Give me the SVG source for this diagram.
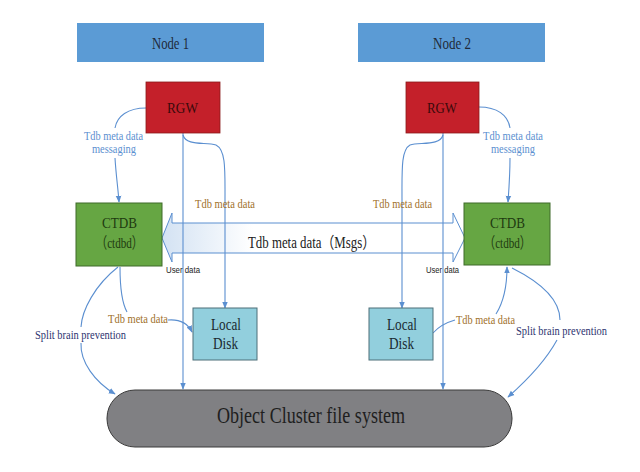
<svg xmlns="http://www.w3.org/2000/svg" width="640" height="472" viewBox="0 0 640 472">
<defs>
<style>
.s{font-family:"Liberation Serif","Noto Sans CJK SC",serif;}
.ss{font-family:"Liberation Sans",sans-serif;}
.c{fill:none;stroke:#5b8fd0;stroke-width:1.1;}
.lb{fill:#5b8fd0;font-size:12.5px;}
.br{fill:#a0702a;font-size:12.5px;}
.nv{fill:#2e3470;font-size:12.5px;}
</style>
<marker id="a" viewBox="0 0 10 10" refX="9" refY="5" markerWidth="7" markerHeight="7" orient="auto-start-reverse" markerUnits="userSpaceOnUse">
<path d="M0,1 L10,5 L0,9 z" fill="#5b8fd0"/>
</marker>
<linearGradient id="g" x1="0" y1="0" x2="1" y2="0">
<stop offset="0" stop-color="#d3e2f3"/>
<stop offset="0.3" stop-color="#ffffff"/>
<stop offset="1" stop-color="#ffffff"/>
</linearGradient>
</defs>
<rect width="640" height="472" fill="#ffffff"/>

<g id="connectors">
<polygon points="162,238 172,213 172,223 453,223 453,213 465,238 453,262 453,253 172,253 172,262" fill="url(#g)" stroke="#5b8fd0" stroke-width="1"/>
<text class="s" x="248" y="248" font-size="16" textLength="127" lengthAdjust="spacingAndGlyphs" fill="#222">Tdb meta data（Msgs）</text>
<path class="c" d="M183,133 L183,389" marker-end="url(#a)"/>
<path class="c" d="M443,133 L443,389" marker-end="url(#a)"/>
<path class="c" d="M183,135 C186,146 205,142 216,145 C226,150 225,170 225,200 L225,308" marker-end="url(#a)"/>
<path class="c" d="M443,135 C440,146 420,142 410,145 C401,150 402,170 402,200 L402,308" marker-end="url(#a)"/>
<path class="c" d="M146,108 C128,108 117,116 115,128"/>
<path class="c" d="M115,158 C116,175 118,188 119,202" marker-end="url(#a)"/>
<path class="c" d="M479,107 C497,107 508,115 510,128"/>
<path class="c" d="M510,158 C510,175 509,188 508,202" marker-end="url(#a)"/>
<path class="c" d="M120,267 C120,290 122,303 127,312"/>
<path class="c" d="M168,320 C180,319 188,324 192,332" marker-end="url(#a)"/>
<path class="c" d="M433,333 C440,325 448,322 455,320"/>
<path class="c" d="M496,314 C503,303 507,288 507,267" marker-end="url(#a)"/>
<path class="c" d="M118,267 C95,285 82,310 81,327 M81,343 C80,362 95,382 115,394" marker-end="url(#a)"/>
<path class="c" d="M512,268 C540,282 560,300 560,320 M557,340 C545,362 525,382 508,397" marker-end="url(#a)"/>
</g>

<g id="node1">
<rect x="77" y="23" width="187" height="39" fill="#5b9bd5"/>
<text class="s" x="152" y="49" font-size="16" textLength="37" lengthAdjust="spacingAndGlyphs" fill="#1f2a3a">Node 1</text>
</g>
<g id="node2">
<rect x="358" y="23" width="187" height="39" fill="#5b9bd5"/>
<text class="s" x="433" y="49" font-size="16" textLength="38" lengthAdjust="spacingAndGlyphs" fill="#1f2a3a">Node 2</text>
</g>

<g id="rgw1">
<rect x="146" y="82" width="74" height="51" fill="#c4202a" stroke="#8a1a1a" stroke-width="0.8"/>
<text class="s" x="167" y="113" font-size="15" textLength="31" lengthAdjust="spacingAndGlyphs" fill="#3a0a0a">RGW</text>
</g>
<g id="rgw2">
<rect x="406" y="82" width="73" height="51" fill="#c4202a" stroke="#8a1a1a" stroke-width="0.8"/>
<text class="s" x="427" y="113" font-size="15" textLength="30" lengthAdjust="spacingAndGlyphs" fill="#3a0a0a">RGW</text>
</g>

<g id="ctdb1">
<rect x="76" y="203" width="86" height="63" fill="#66a643" stroke="#3f6b2a" stroke-width="1"/>
<text class="s" x="102" y="228" font-size="15.5" textLength="35" lengthAdjust="spacingAndGlyphs" fill="#1e3a10">CTDB</text>
<text class="s" x="96" y="248" font-size="15.5" textLength="47" lengthAdjust="spacingAndGlyphs" fill="#1e3a10">（ctdbd）</text>
</g>
<g id="ctdb2">
<rect x="464" y="203" width="86" height="62" fill="#66a643" stroke="#3f6b2a" stroke-width="1"/>
<text class="s" x="490" y="228" font-size="15.5" textLength="35" lengthAdjust="spacingAndGlyphs" fill="#1e3a10">CTDB</text>
<text class="s" x="484" y="248" font-size="15.5" textLength="47" lengthAdjust="spacingAndGlyphs" fill="#1e3a10">（ctdbd）</text>
</g>

<g id="disk1">
<rect x="193" y="308" width="64" height="52" fill="#92cfdd" stroke="#4d6f78" stroke-width="1"/>
<text class="s" x="211" y="330" font-size="16.5" textLength="30" lengthAdjust="spacingAndGlyphs" fill="#1a2a30">Local</text>
<text class="s" x="213" y="349" font-size="16.5" textLength="25" lengthAdjust="spacingAndGlyphs" fill="#1a2a30">Disk</text>
</g>
<g id="disk2">
<rect x="369" y="308" width="64" height="52" fill="#92cfdd" stroke="#4d6f78" stroke-width="1"/>
<text class="s" x="387" y="330" font-size="16.5" textLength="30" lengthAdjust="spacingAndGlyphs" fill="#1a2a30">Local</text>
<text class="s" x="389" y="349" font-size="16.5" textLength="25" lengthAdjust="spacingAndGlyphs" fill="#1a2a30">Disk</text>
</g>

<g id="cluster">
<rect x="107" y="390" width="405" height="57" rx="28" ry="28" fill="#808083" stroke="#3a3a3a" stroke-width="1"/>
<text class="s" x="217" y="423" font-size="22.5" textLength="188" lengthAdjust="spacingAndGlyphs" fill="#1e1e1e">Object Cluster file system</text>
</g>

<g id="labels">
<text class="s lb" x="84" y="140" textLength="59" lengthAdjust="spacingAndGlyphs">Tdb meta data</text>
<text class="s lb" x="92" y="153" textLength="44" lengthAdjust="spacingAndGlyphs">messaging</text>
<text class="s lb" x="483" y="140" textLength="60" lengthAdjust="spacingAndGlyphs">Tdb meta data</text>
<text class="s lb" x="491" y="153" textLength="44" lengthAdjust="spacingAndGlyphs">messaging</text>
<text class="s br" x="195" y="208" textLength="60" lengthAdjust="spacingAndGlyphs">Tdb meta data</text>
<text class="s br" x="373" y="208" textLength="59" lengthAdjust="spacingAndGlyphs">Tdb meta data</text>
<text class="ss" x="166" y="273" font-size="9" textLength="34" lengthAdjust="spacingAndGlyphs" fill="#222">User data</text>
<text class="ss" x="426" y="273" font-size="9" textLength="33" lengthAdjust="spacingAndGlyphs" fill="#222">User data</text>
<text class="s br" x="108" y="323" textLength="60" lengthAdjust="spacingAndGlyphs">Tdb meta data</text>
<text class="s br" x="456" y="324" textLength="59" lengthAdjust="spacingAndGlyphs">Tdb meta data</text>
<text class="s nv" x="35" y="339" textLength="91" lengthAdjust="spacingAndGlyphs">Split brain prevention</text>
<text class="s nv" x="516" y="335" textLength="91" lengthAdjust="spacingAndGlyphs">Split brain prevention</text>
</g>
</svg>
